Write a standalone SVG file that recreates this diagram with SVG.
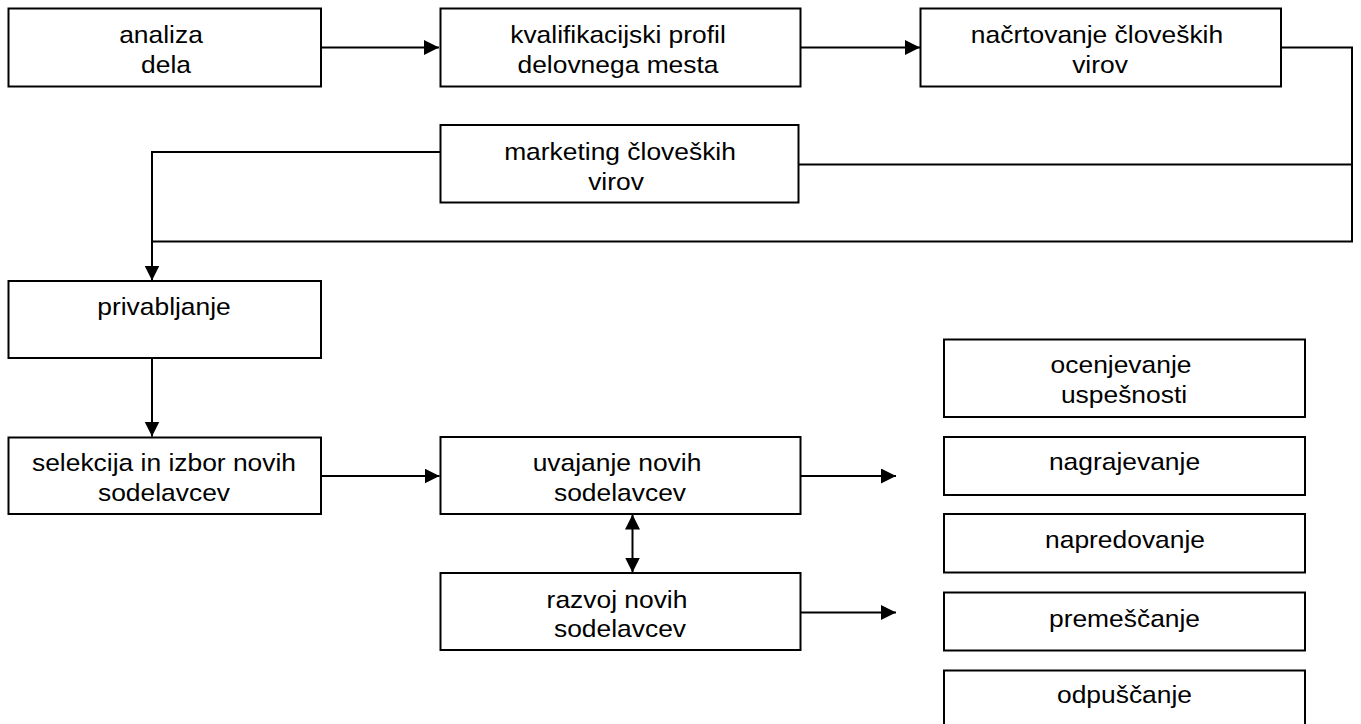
<svg xmlns="http://www.w3.org/2000/svg" width="1361" height="724" viewBox="0 0 1361 724">
<style>
rect{fill:#fff;stroke:#000;stroke-width:2}
text{font-family:"Liberation Sans",Arial,sans-serif;font-size:24px;fill:#000;text-anchor:middle}
.c{fill:none;stroke:#000;stroke-width:2}
</style>
<defs>
<marker id="ah" markerUnits="userSpaceOnUse" markerWidth="16" markerHeight="16" refX="15" refY="7.5" orient="auto-start-reverse" viewBox="0 0 16 16">
<path d="M0,0 L15,7.5 L0,15 z" fill="#000"/>
</marker>
</defs>
<rect x="0" y="0" width="1361" height="724" style="stroke:none"/>
<g id="connectors">
<path class="c" d="M321,47.5 H439" marker-end="url(#ah)"/>
<path class="c" d="M800.5,47.5 H920" marker-end="url(#ah)"/>
<path class="c" d="M1281,47.5 H1352 V241.5 H152"/>
<path class="c" d="M798.5,164.5 H1352"/>
<path class="c" d="M440.5,152 H152 V280.5" marker-end="url(#ah)"/>
<path class="c" d="M152,358 V436.5" marker-end="url(#ah)"/>
<path class="c" d="M321,476 H439.5" marker-end="url(#ah)"/>
<path class="c" d="M800.5,476 H896" marker-end="url(#ah)"/>
<path class="c" d="M632.5,514.5 V572.5" marker-start="url(#ah)" marker-end="url(#ah)"/>
<path class="c" d="M800.5,612.5 H896" marker-end="url(#ah)"/>
</g>
<g id="n1"><rect x="8.5" y="8.5" width="312.5" height="78"/>
<text transform="matrix(1.1 0 0 1 161 43)">analiza</text><text transform="matrix(1.1 0 0 1 166 73)">dela</text></g>
<g id="n2"><rect x="440.5" y="8.5" width="360" height="78"/>
<text transform="matrix(1.1 0 0 1 618 43)">kvalifikacijski profil</text><text transform="matrix(1.1 0 0 1 618 73)">delovnega mesta</text></g>
<g id="n3"><rect x="920.5" y="8.5" width="360.5" height="78"/>
<text transform="matrix(1.1 0 0 1 1097 43)">načrtovanje človeških</text><text transform="matrix(1.1 0 0 1 1100 73)">virov</text></g>
<g id="n4"><rect x="440.5" y="125" width="358" height="77.5"/>
<text transform="matrix(1.1 0 0 1 620 160)">marketing človeških</text><text transform="matrix(1.1 0 0 1 616 190)">virov</text></g>
<g id="n5"><rect x="8.5" y="281" width="312.5" height="77"/>
<text transform="matrix(1.1 0 0 1 164 315)">privabljanje</text></g>
<g id="n6"><rect x="8.5" y="437.5" width="312.5" height="76.5"/>
<text transform="matrix(1.1 0 0 1 164 471)">selekcija in izbor novih</text><text transform="matrix(1.1 0 0 1 164 501)">sodelavcev</text></g>
<g id="n7"><rect x="440.5" y="437" width="360" height="77"/>
<text transform="matrix(1.1 0 0 1 617 471)">uvajanje novih</text><text transform="matrix(1.1 0 0 1 620 501)">sodelavcev</text></g>
<g id="n8"><rect x="440.5" y="573" width="360" height="77"/>
<text transform="matrix(1.1 0 0 1 617 608)">razvoj novih</text><text transform="matrix(1.1 0 0 1 620 637)">sodelavcev</text></g>
<g id="n9"><rect x="944" y="339.5" width="361" height="77.5"/>
<text transform="matrix(1.1 0 0 1 1121 373)">ocenjevanje</text><text transform="matrix(1.1 0 0 1 1124 403)">uspešnosti</text></g>
<g id="n10"><rect x="944" y="437" width="361" height="58"/>
<text transform="matrix(1.1 0 0 1 1124.5 470)">nagrajevanje</text></g>
<g id="n11"><rect x="944" y="514" width="361" height="58.5"/>
<text transform="matrix(1.1 0 0 1 1125 548)">napredovanje</text></g>
<g id="n12"><rect x="944" y="592.5" width="361" height="58"/>
<text transform="matrix(1.1 0 0 1 1124.5 626.5)">premeščanje</text></g>
<g id="n13"><rect x="944" y="670.5" width="361" height="70"/>
<text transform="matrix(1.1 0 0 1 1124.5 703)">odpuščanje</text></g>
</svg>
